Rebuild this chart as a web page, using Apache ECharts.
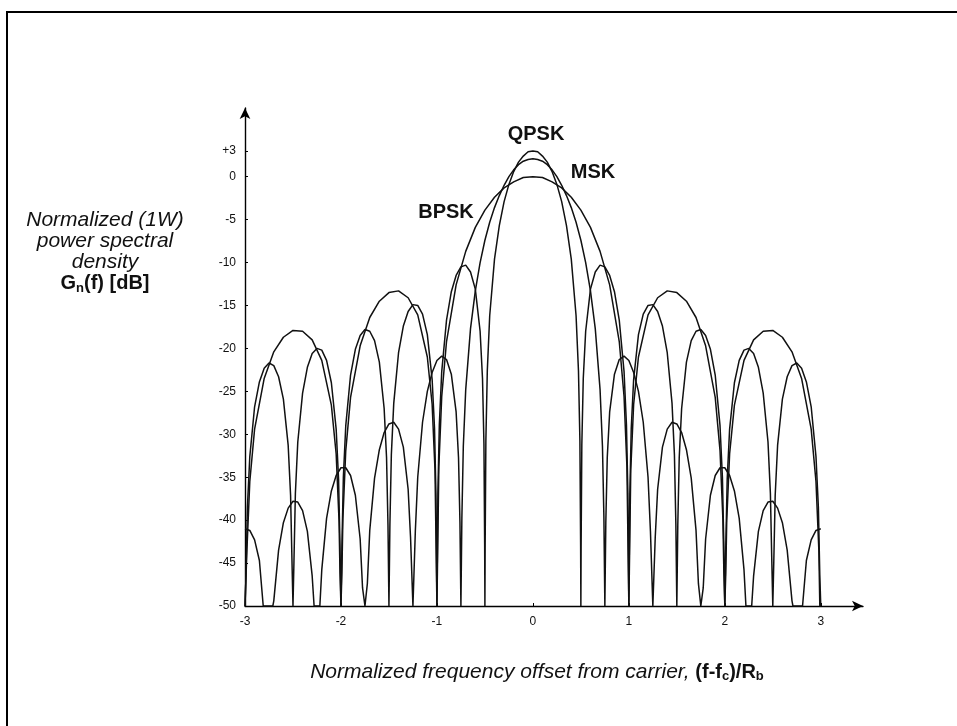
<!DOCTYPE html>
<html>
<head>
<meta charset="utf-8">
<title>BPSK / QPSK / MSK power spectral density</title>
<script src="https://cdn.jsdelivr.net/npm/echarts@6/dist/echarts.min.js"></script>
<style>
  body { margin: 0; background: #fff; }
  #chart { width: 957px; height: 726px; }
</style>
</head>
<body>
<div id="chart"></div>
<script>
// tick labels
const freqTicks = [-3, -2, -1, 0, 1, 2, 3];
const dbTicks = [3, 0, -5, -10, -15, -20, -25, -30, -35, -40, -45, -50];

// values, positive half only (the plot is symmetric about 0)
// -50 = the floor of the plot (curve runs off the bottom there)
const bpskFreq = [0, 0.1, 0.2, 0.3, 0.4, 0.5, 0.6, 0.7, 0.8, 0.9, 0.95, 0.98, 0.995, 1,
  1.005, 1.02, 1.05, 1.1, 1.2, 1.3, 1.4, 1.5, 1.6, 1.7, 1.8, 1.9, 1.95, 1.98, 1.99, 2,
  2.01, 2.02, 2.05, 2.1, 2.2, 2.3, 2.4, 2.5, 2.6, 2.7, 2.8, 2.9, 2.95, 2.98, 2.99, 3];
const bpskDb = [0, -0.1, -0.6, -1.3, -2.4, -3.9, -5.9, -8.7, -12.6, -19.2, -25.6, -33.8, -46, -50,
  -46.1, -34.2, -26.5, -21.0, -16.1, -14.1, -13.3, -13.5, -14.5, -16.4, -19.7, -25.7, -31.9, -39.9, -46, -50,
  -46.2, -40.1, -32.3, -26.6, -21.4, -19.0, -18.0, -17.9, -18.7, -20.4, -23.5, -29.4, -35.5, -43.5, -50, -50];

const qpskFreq = [0, 0.05, 0.1, 0.15, 0.2, 0.25, 0.3, 0.35, 0.4, 0.45, 0.475, 0.49, 0.4975, 0.5,
  0.5025, 0.51, 0.525, 0.55, 0.6, 0.65, 0.7, 0.75, 0.8, 0.85, 0.9, 0.95, 0.975, 0.99, 1,
  1.01, 1.025, 1.05, 1.1, 1.15, 1.2, 1.25, 1.3, 1.35, 1.4, 1.45, 1.475, 1.49, 1.5,
  1.51, 1.525, 1.55, 1.6, 1.65, 1.7, 1.75, 1.8, 1.85, 1.9, 1.95, 1.975, 1.99, 2,
  2.01, 2.025, 2.05, 2.1, 2.15, 2.2, 2.25, 2.3, 2.35, 2.4, 2.45, 2.475, 2.49, 2.5,
  2.51, 2.525, 2.55, 2.6, 2.65, 2.7, 2.75, 2.8, 2.85, 2.9, 2.95, 2.975, 2.99, 3];
const qpskDb = [3.0, 2.9, 2.4, 1.7, 0.6, -0.9, -2.9, -5.7, -9.6, -16.2, -22.6, -30.8, -43, -50,
  -43, -31.2, -23.5, -18.0, -13.1, -11.1, -10.3, -10.5, -11.5, -13.4, -16.7, -22.7, -28.9, -36.9, -50,
  -37.1, -29.3, -23.6, -18.4, -16.0, -15.0, -14.9, -15.7, -17.4, -20.5, -26.4, -32.4, -40.5, -50,
  -40.6, -32.7, -27.0, -21.6, -19.1, -18.0, -17.8, -18.5, -20.1, -23.1, -29.0, -35.0, -43.0, -50,
  -43.1, -35.2, -29.4, -24.0, -21.4, -20.2, -20.0, -20.6, -22.2, -25.2, -30.9, -36.9, -44.9, -50,
  -45.0, -37.1, -31.3, -25.9, -23.3, -22.0, -21.7, -22.3, -23.9, -26.8, -32.6, -38.5, -46.5, -50];

const mskFreq = [0, 0.05, 0.1, 0.15, 0.2, 0.25, 0.3, 0.35, 0.4, 0.45, 0.5, 0.55, 0.6, 0.65, 0.7, 0.725, 0.74, 0.75,
  0.76, 0.775, 0.8, 0.85, 0.9, 0.95, 1, 1.05, 1.1, 1.15, 1.2, 1.225, 1.25,
  1.275, 1.3, 1.35, 1.4, 1.45, 1.5, 1.55, 1.6, 1.65, 1.7, 1.725, 1.75,
  1.775, 1.8, 1.85, 1.9, 1.95, 2, 2.05, 2.1, 2.15, 2.2, 2.22,
  2.28, 2.3, 2.35, 2.4, 2.45, 2.5, 2.55, 2.6, 2.65, 2.7, 2.71,
  2.81, 2.85, 2.9, 2.95, 3];
const mskDb = [2.1, 2.0, 1.8, 1.4, 0.8, 0.0, -1.0, -2.2, -3.6, -5.3, -7.4, -10.0, -13.3, -17.7, -24.8, -31.4, -39.7, -50,
  -40.3, -32.7, -27.4, -23.0, -21.3, -20.9, -21.4, -22.8, -25.0, -28.6, -35.0, -41.3, -50,
  -42.0, -36.4, -31.5, -29.4, -28.6, -28.8, -29.8, -31.8, -35.1, -41.2, -47.4, -50,
  -47.9, -42.2, -37.1, -34.8, -33.9, -33.9, -34.8, -36.6, -39.8, -45.8, -50,
  -50, -46.5, -41.3, -38.9, -37.9, -37.8, -38.6, -40.3, -43.5, -49.4, -50,
  -50, -44.7, -42.3, -41.2, -41.0];

// build [f, dB] pairs for both sides of the carrier
function mirror(freq, db) {
  const right = freq.map((f, i) => [f, db[i]]);
  const left = right.slice(freq[0] === 0 ? 1 : 0).map((p) => [-p[0], p[1]]).reverse();
  return left.concat(right);
}

const FONT = "'Liberation Sans', Arial, sans-serif";
const lineStyle = { color: "#111", width: 1.5 };

function curve(name, data) {
  return {
    name: name,
    type: "line",
    data: data,
    showSymbol: false,
    clip: true,
    lineStyle: lineStyle,
    silent: true,
  };
}

let myChart = echarts.init(document.getElementById("chart"));

const option = {
  animation: false,
  backgroundColor: "#fff",
  grid: { left: 245, right: 94, top: 108, bottom: 120 },
  xAxis: {
    type: "value",
    min: -3,
    max: 3.44,
    axisLine: {
      onZero: false,
      symbol: ["none", "arrow"],
      symbolSize: [8, 11],
      lineStyle: { color: "#000", width: 1.4 },
    },
    axisTick: { inside: true, length: 3, customValues: freqTicks, lineStyle: { color: "#000" } },
    axisLabel: {
      customValues: freqTicks,
      margin: 10,
      color: "#111",
      fontSize: 12,
      fontFamily: FONT,
    },
    splitLine: { show: false },
  },
  yAxis: {
    type: "value",
    min: -50,
    max: 8,
    axisLine: {
      show: true,
      onZero: false,
      symbol: ["none", "arrow"],
      symbolSize: [8, 11],
      lineStyle: { color: "#000", width: 1.4 },
    },
    axisTick: { show: true, inside: true, length: 3, customValues: dbTicks, lineStyle: { color: "#000" } },
    axisLabel: {
      customValues: dbTicks,
      margin: 9,
      color: "#111",
      fontSize: 12,
      fontFamily: FONT,
      padding: [5, 0, 0, 0],
      formatter: function (v) {
        return v > 0 ? "+" + v : String(v);
      },
    },
    splitLine: { show: false },
  },
  series: [
    curve("BPSK", mirror(bpskFreq, bpskDb)),
    curve("QPSK", mirror(qpskFreq, qpskDb)),
    curve("MSK", mirror(mskFreq, mskDb)),
  ],
  graphic: [
    // scanned frame (top + left edges)
    { type: "line", shape: { x1: 6, y1: 12, x2: 957, y2: 12 }, style: { stroke: "#000", lineWidth: 2 } },
    { type: "line", shape: { x1: 7, y1: 11, x2: 7, y2: 726 }, style: { stroke: "#000", lineWidth: 2 } },
    // y axis title
    {
      type: "text",
      x: 105,
      y: 252,
      style: {
        text: "{i|Normalized (1W)}\n{i|power spectral}\n{i|density}\n{b|G}{s|n}{b|(f) [dB]}",
        align: "center",
        verticalAlign: "middle",
        fill: "#111",
        rich: {
          i: { fontFamily: FONT, fontStyle: "italic", fontSize: 21, lineHeight: 21 },
          b: { fontFamily: FONT, fontWeight: "bold", fontSize: 20, lineHeight: 21 },
          s: { fontFamily: FONT, fontWeight: "bold", fontSize: 13, lineHeight: 21, padding: [9, 0, 0, 0] },
        },
      },
    },
    // x axis title
    {
      type: "text",
      x: 537,
      y: 672,
      style: {
        text: "{i|Normalized frequency offset from carrier, }{b|(f-f}{s|c}{b|)/R}{s|b}",
        align: "center",
        verticalAlign: "middle",
        fill: "#111",
        rich: {
          i: { fontFamily: FONT, fontStyle: "italic", fontSize: 21, lineHeight: 24 },
          b: { fontFamily: FONT, fontWeight: "bold", fontSize: 20, lineHeight: 24 },
          s: { fontFamily: FONT, fontWeight: "bold", fontSize: 13, lineHeight: 24, padding: [9, 0, 0, 0] },
        },
      },
    },
    // curve names
    { type: "text", x: 536, y: 134, style: { text: "QPSK", align: "center", verticalAlign: "middle", fill: "#111", font: "bold 20px " + FONT } },
    { type: "text", x: 593, y: 172, style: { text: "MSK", align: "center", verticalAlign: "middle", fill: "#111", font: "bold 20px " + FONT } },
    { type: "text", x: 446, y: 212, style: { text: "BPSK", align: "center", verticalAlign: "middle", fill: "#111", font: "bold 20px " + FONT } },
  ],
};

myChart.setOption(option, true);
window.addEventListener("resize", function () {
  myChart.resize();
});
</script>
</body>
</html>
